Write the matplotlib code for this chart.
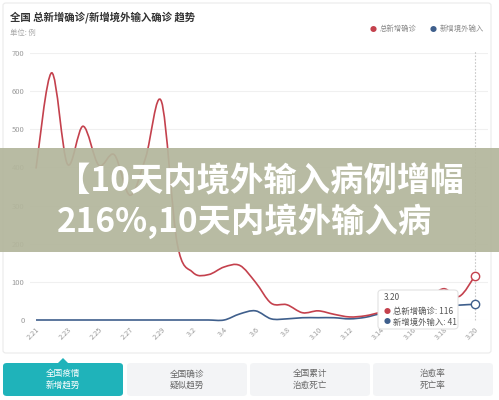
import matplotlib
matplotlib.use("Agg")
import matplotlib.pyplot as plt
from matplotlib.path import Path
from matplotlib.patches import PathPatch, Rectangle, FancyBboxPatch, Polygon

plt.rcParams['font.family'] = ['Noto Sans CJK SC', 'DejaVu Sans']

# dates 2.21 .. 3.20
dates = ['2.21', '2.22', '2.23', '2.24', '2.25', '2.26', '2.27', '2.28', '2.29',
         '3.1', '3.2', '3.3', '3.4', '3.5', '3.6', '3.7', '3.8', '3.9', '3.10',
         '3.11', '3.12', '3.13', '3.14', '3.15', '3.16', '3.17', '3.18', '3.19', '3.20']
total_new = [397, 648, 409, 508, 406, 433, 327, 427, 573,
             202, 125, 119, 139, 143, 99, 44, 40, 19, 24,
             15, 8, 11, 20, 25, 30, 55, 82, 62, 116]
imported_new = [0, 0, 0, 0, 0, 0, 0, 0, 0,
                0, 0, 0, 0, 16, 24, 3, 3, 6, 6,
                6, 3, 7, 16, 12, 20, 12, 34, 39, 41]
y_ticks = [0, 100, 200, 300, 400, 500, 600, 700]
tabs = ['全国疫情\n新增趋势', '全国确诊\n疑似趋势', '全国累计\n治愈死亡', '治愈率\n死亡率']

RED = '#c4414d'
BLUE = '#3f5f8c'
W, H = 499, 400


def px(x):
    return x / W


def py(y):
    return 1 - y / H


def smooth_path(xs, ys):
    # catmull-rom style bezier through every point
    pts = list(zip(xs, ys))
    verts = [pts[0]]
    codes = [Path.MOVETO]
    n = len(pts)
    for i in range(n - 1):
        p0 = pts[i - 1] if i > 0 else pts[i]
        p1 = pts[i]
        p2 = pts[i + 1]
        p3 = pts[i + 2] if i + 2 < n else pts[i + 1]
        c1 = (p1[0] + (p2[0] - p0[0]) / 6, p1[1] + (p2[1] - p0[1]) / 6)
        c2 = (p2[0] - (p3[0] - p1[0]) / 6, p2[1] - (p3[1] - p1[1]) / 6)
        verts += [c1, c2, p2]
        codes += [Path.CURVE4] * 3
    return Path(verts, codes)


fig = plt.figure(figsize=(W / 100, H / 100), dpi=100)
fig.patch.set_facecolor('white')

# card frame (behind the axes)
fig.patches.append(FancyBboxPatch((px(3), py(353)), px(488), 350 / H,
                                  boxstyle='round,pad=0,rounding_size=0.006',
                                  transform=fig.transFigure, fc='white', ec='#ebebeb',
                                  lw=0.8, zorder=-5))

ax = fig.add_axes([px(30), py(320), px(458), 267 / H])
ax.set_zorder(2)
ax.set_facecolor('none')
xs = list(range(len(dates)))
ax.set_xlim(-6 / 15.68, len(dates) - 1 + 13 / 15.68)
ax.set_ylim(0, 700)
for s in ax.spines.values():
    s.set_visible(False)
ax.set_yticks(y_ticks)
ax.set_yticklabels([str(v) for v in y_ticks], fontsize=5.5, color='#9a9a9a')
ax.set_xticks(xs[::2])
ax.set_xticklabels(dates[::2], fontsize=5.3, color='#9a9a9a', rotation=45,
                   ha='right', rotation_mode='anchor')
ax.tick_params(length=0, pad=4)
ax.grid(axis='y', color='#f0f0f0', lw=0.8)
ax.set_axisbelow(True)

# tooltip crosshair
ax.plot([xs[-1], xs[-1]], [0, 705], color='#c8c8c8', lw=0.8, ls=(0, (1.5, 1.5)), clip_on=False)

ax.add_patch(PathPatch(smooth_path(xs, imported_new), fc='none', ec=BLUE, lw=1.2, clip_on=False))
ax.add_patch(PathPatch(smooth_path(xs, total_new), fc='none', ec=RED, lw=1.2, clip_on=False))
ax.plot(xs[-1], total_new[-1], 'o', ms=6, mfc='white', mec=RED, mew=1.0, clip_on=False, zorder=5)
ax.plot(xs[-1], imported_new[-1], 'o', ms=6, mfc='white', mec=BLUE, mew=1.0, clip_on=False, zorder=5)

# title, unit, legend
fig.text(px(10), py(17), '全国 总新增确诊/新增境外输入确诊 趋势', fontsize=7.5,
         fontweight='bold', color='#333333', va='center')
fig.text(px(10), py(33), '单位: 例', fontsize=5.3, color='#a8a8a8', va='center')
fig.text(px(373), py(29.5), '●', fontsize=5, color=RED, ha='center', va='center')
fig.text(px(380), py(29), '总新增确诊', fontsize=5.3, color='#8a8a8a', va='center')
fig.text(px(433), py(29.5), '●', fontsize=5, color=BLUE, ha='center', va='center')
fig.text(px(440), py(29), '新增境外输入', fontsize=5.3, color='#8a8a8a', va='center')

# tooltip
fig.patches.append(FancyBboxPatch((px(378), py(329)), px(80), 39 / H,
                                  boxstyle='round,pad=0,rounding_size=0.008',
                                  transform=fig.transFigure, fc='white', ec='#e2e2e2',
                                  lw=0.8, zorder=10))
fig.text(px(384), py(298), dates[-1], fontsize=6, color='#555555', va='center', zorder=11)
fig.text(px(387), py(311.5), '●', fontsize=5, color=RED, ha='center', va='center', zorder=11)
fig.text(px(393), py(311), '总新增确诊: %d' % total_new[-1], fontsize=6, color='#555555',
         va='center', zorder=11)
fig.text(px(387), py(322.5), '●', fontsize=5, color=BLUE, ha='center', va='center', zorder=11)
fig.text(px(393), py(322), '新增境外输入: %d' % imported_new[-1], fontsize=6, color='#555555',
         va='center', zorder=11)

# overlay banner
fig.patches.append(Rectangle((0, py(252)), 1, 104 / H, transform=fig.transFigure,
                             fc='#b3b69c', alpha=0.93, zorder=20))
fig.text(px(57), py(182), '【10天内境外输入病例增幅', fontsize=24, fontweight='heavy',
         color='white', va='center', zorder=21)
fig.text(px(57), py(221), '216%,10天内境外输入病', fontsize=24, fontweight='heavy',
         color='white', va='center', zorder=21)

# bottom tabs
tab_x = [3, 127, 250, 373]
for i, label in enumerate(tabs):
    active = i == 0
    fig.patches.append(FancyBboxPatch((px(tab_x[i]), py(396)), px(120), 33 / H,
                                      boxstyle='round,pad=0,rounding_size=0.008',
                                      transform=fig.transFigure,
                                      fc='#1fb3ba' if active else '#f3f4f6', ec='none'))
    fig.text(px(tab_x[i] + 60), py(379.5), label, fontsize=6.2, ha='center', va='center',
             color='white' if active else '#666666', linespacing=1.3)
fig.patches.append(Polygon([(px(58), py(363)), (px(68), py(363)), (px(63), py(358))],
                           closed=True, transform=fig.transFigure, fc='#1fb3ba', ec='none'))

fig.savefig('out.png', dpi=100)
